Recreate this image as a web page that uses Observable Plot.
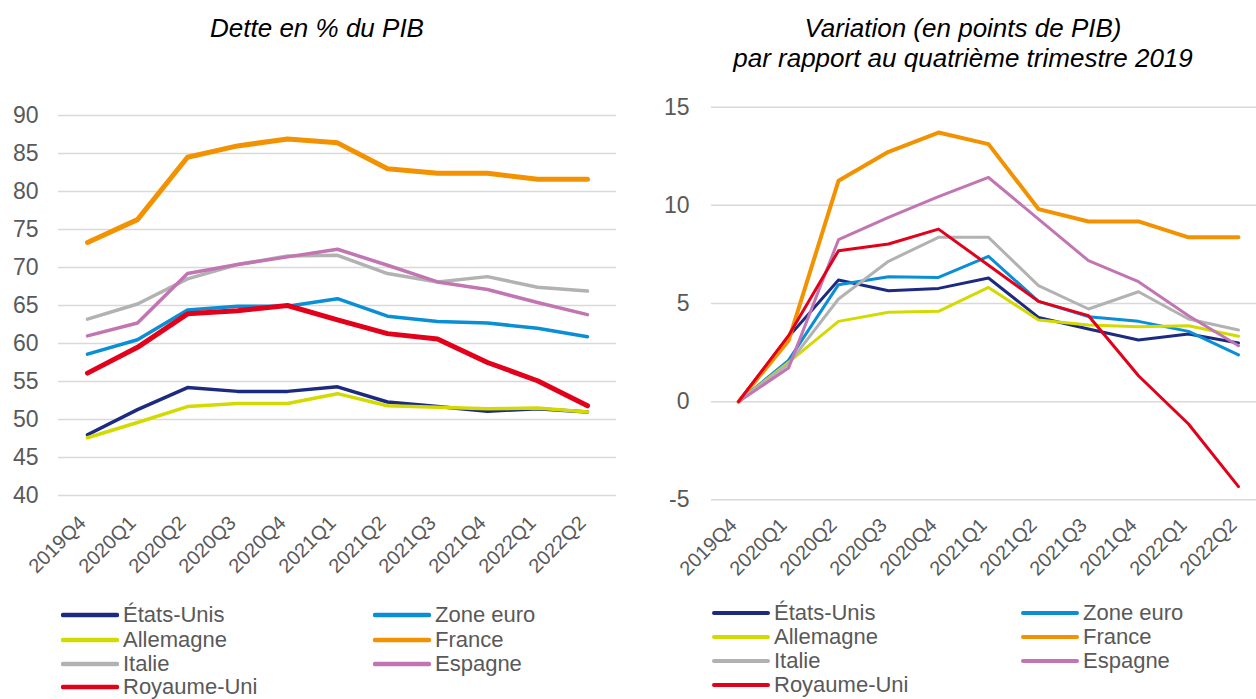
<!DOCTYPE html>
<html>
<head>
<meta charset="utf-8">
<script src="https://cdn.jsdelivr.net/npm/d3@7"></script>
<script src="https://cdn.jsdelivr.net/npm/@observablehq/plot@0.6"></script>
<style>
  html, body { margin: 0; padding: 0; background: #fff; }
  #page { position: relative; width: 1256px; height: 699px; overflow: hidden; background: #fff;
          font-family: "Liberation Sans", Arial, sans-serif; }
  .title { position: absolute; font-style: italic; font-size: 26px; line-height: 30px; color: #000;
           text-align: center; white-space: nowrap; transform: translateX(-50%); }
  .chart { position: absolute; top: 80px; }
  .leg { position: absolute; display: flex; align-items: center; height: 24px; font-size: 22px;
         color: #595959; white-space: nowrap; transform: translateY(-50%); }
  .leg svg { display: block; margin-right: 4px; }
</style>
</head>
<body>
<div id="page"></div>
<script>
// ---------- data ----------
const quarters = ["2019Q4","2020Q1","2020Q2","2020Q3","2020Q4","2021Q1","2021Q2","2021Q3","2021Q4","2022Q1","2022Q2"];
const seriesNames = ["États-Unis","Zone euro","Allemagne","France","Italie","Espagne","Royaume-Uni"];
const seriesColors = ["#1c2a80","#0a8ed5","#d3da00","#f39200","#b2b2b2","#c176b3","#e2001a"];

// Dette en % du PIB
const detteEtatsUnis  = [48.0, 51.3, 54.2, 53.7, 53.7, 54.3, 52.3, 51.7, 51.1, 51.4, 51.0];
const detteZoneEuro   = [58.6, 60.5, 64.4, 64.9, 64.9, 65.9, 63.6, 62.9, 62.7, 62.0, 60.9];
const detteAllemagne  = [47.6, 49.6, 51.7, 52.1, 52.1, 53.4, 51.8, 51.6, 51.4, 51.5, 51.0];
const detteFrance     = [73.3, 76.3, 84.5, 86.0, 86.9, 86.4, 83.0, 82.4, 82.4, 81.6, 81.6];
const detteItalie     = [63.2, 65.2, 68.5, 70.4, 71.5, 71.6, 69.2, 68.1, 68.8, 67.4, 66.9];
const detteEspagne    = [61.0, 62.7, 69.2, 70.4, 71.4, 72.4, 70.3, 68.1, 67.1, 65.4, 63.8];
const detteRoyaumeUni = [56.1, 59.5, 63.9, 64.3, 65.0, 63.1, 61.3, 60.6, 57.5, 55.1, 51.8];

// Variation (en points de PIB) par rapport au 2019Q4
const varEtatsUnis  = [0, 3.30, 6.20, 5.65, 5.77, 6.30, 4.29, 3.70, 3.14, 3.45, 2.99];
const varZoneEuro   = [0, 2.10, 5.96, 6.36, 6.33, 7.40, 5.11, 4.33, 4.09, 3.58, 2.38];
const varAllemagne  = [0, 2.00, 4.09, 4.55, 4.60, 5.82, 4.16, 3.90, 3.82, 3.87, 3.33];
const varFrance     = [0, 3.10, 11.25, 12.73, 13.71, 13.12, 9.81, 9.18, 9.18, 8.37, 8.37];
const varItalie     = [0, 1.92, 5.23, 7.15, 8.37, 8.37, 5.91, 4.72, 5.60, 4.21, 3.65];
const varEspagne    = [0, 1.71, 8.25, 9.39, 10.44, 11.42, 9.30, 7.18, 6.11, 4.38, 2.85];
const varRoyaumeUni = [0, 3.36, 7.69, 8.03, 8.79, 6.95, 5.11, 4.38, 1.32, -1.14, -4.33];

const leftTicks  = [40, 45, 50, 55, 60, 65, 70, 75, 80, 85, 90];
const rightTicks = [-5, 0, 5, 10, 15];

const leftTitle = "Dette en % du PIB";
const rightTitle = ["Variation (en points de PIB)", "par rapport au quatrième trimestre 2019"];

const detteSeries = [detteEtatsUnis, detteZoneEuro, detteAllemagne, detteFrance, detteItalie, detteEspagne, detteRoyaumeUni];
const varSeries   = [varEtatsUnis, varZoneEuro, varAllemagne, varFrance, varItalie, varEspagne, varRoyaumeUni];

// ---------- styles ----------
const leftWidths  = [3.5, 3.5, 3.5, 5, 3.5, 3.5, 5];
const rightWidths = [3, 3, 3, 4, 3, 3, 3];
const font = "'Liberation Sans', Arial, sans-serif";

function toRows(values) { return values.map((v, i) => ({q: quarters[i], v})); }

function makeChart(seriesVals, widths, opts) {
  return Plot.plot({
    width: opts.width, height: 520,
    marginLeft: opts.marginLeft, marginRight: opts.marginRight,
    marginTop: opts.marginTop, marginBottom: opts.marginBottom,
    style: {fontFamily: font, color: "#595959", background: "transparent", overflow: "visible"},
    x: {type: "point", domain: quarters, range: opts.xRange, padding: 0, label: null},
    y: {domain: opts.yDomain, label: null},
    marks: [
      Plot.gridY(opts.ticks, {stroke: "#d9d9d9", strokeOpacity: 1, strokeWidth: 1.5}),
      Plot.axisY(opts.ticks, {tickSize: 0, tickPadding: opts.yPad, fontSize: 23, label: null,
        fill: "#595959", tickFormat: d => String(d)}),
      Plot.axisX({tickSize: 0, tickRotate: -45, tickPadding: opts.xPad, fontSize: 20, label: null,
        fill: "#595959", dx: -5}),
      ...seriesVals.map((vals, i) => Plot.line(toRows(vals), {
        x: "q", y: "v", stroke: seriesColors[i], strokeWidth: widths[i],
        strokeLinecap: "round", strokeLinejoin: "round"
      }))
    ]
  });
}

const page = document.getElementById("page");

const left = makeChart(detteSeries, leftWidths, {
  width: 640, marginLeft: 58, marginRight: 24, marginTop: 35, marginBottom: 105,
  xRange: [83.4, 591], yDomain: [40, 90], ticks: leftTicks, yPad: 20, xPad: 24
});
left.classList.add("chart"); left.style.left = "0px";
page.appendChild(left);

const right = makeChart(varSeries, rightWidths, {
  width: 616, marginLeft: 71, marginRight: 0, marginTop: 26.7, marginBottom: 100.7,
  xRange: [96, 600.7], yDomain: [-5, 15], ticks: rightTicks, yPad: 22, xPad: 22
});
right.classList.add("chart"); right.style.left = "640px";
page.appendChild(right);

// titles
function addTitle(lines, cx) {
  const d = document.createElement("div");
  d.className = "title";
  d.style.left = cx + "px"; d.style.top = "13px";
  lines.forEach((t, i) => { if (i) d.appendChild(document.createElement("br")); d.appendChild(document.createTextNode(t)); });
  page.appendChild(d);
}
addTitle([leftTitle], 317);
addTitle(rightTitle, 963);

// legends (row-major, two columns)
function addLegend(colX, rowY, sw, swLen) {
  seriesNames.forEach((name, i) => {
    const d = document.createElement("div");
    d.className = "leg";
    d.style.left = colX[i % 2] + "px";
    d.style.top = rowY[Math.floor(i / 2)] + "px";
    const svg = d3.create("svg").attr("width", swLen).attr("height", 10);
    svg.append("line").attr("x1", 2).attr("x2", swLen - 2).attr("y1", 5).attr("y2", 5)
      .attr("stroke", seriesColors[i]).attr("stroke-width", sw).attr("stroke-linecap", "round");
    d.appendChild(svg.node());
    d.appendChild(document.createTextNode(name));
    page.appendChild(d);
  });
}
addLegend([61, 373], [615, 639.5, 664, 687], 4.5, 58);
addLegend([712, 1021], [613, 637, 661, 685], 4, 58);
</script>
</body>
</html>
